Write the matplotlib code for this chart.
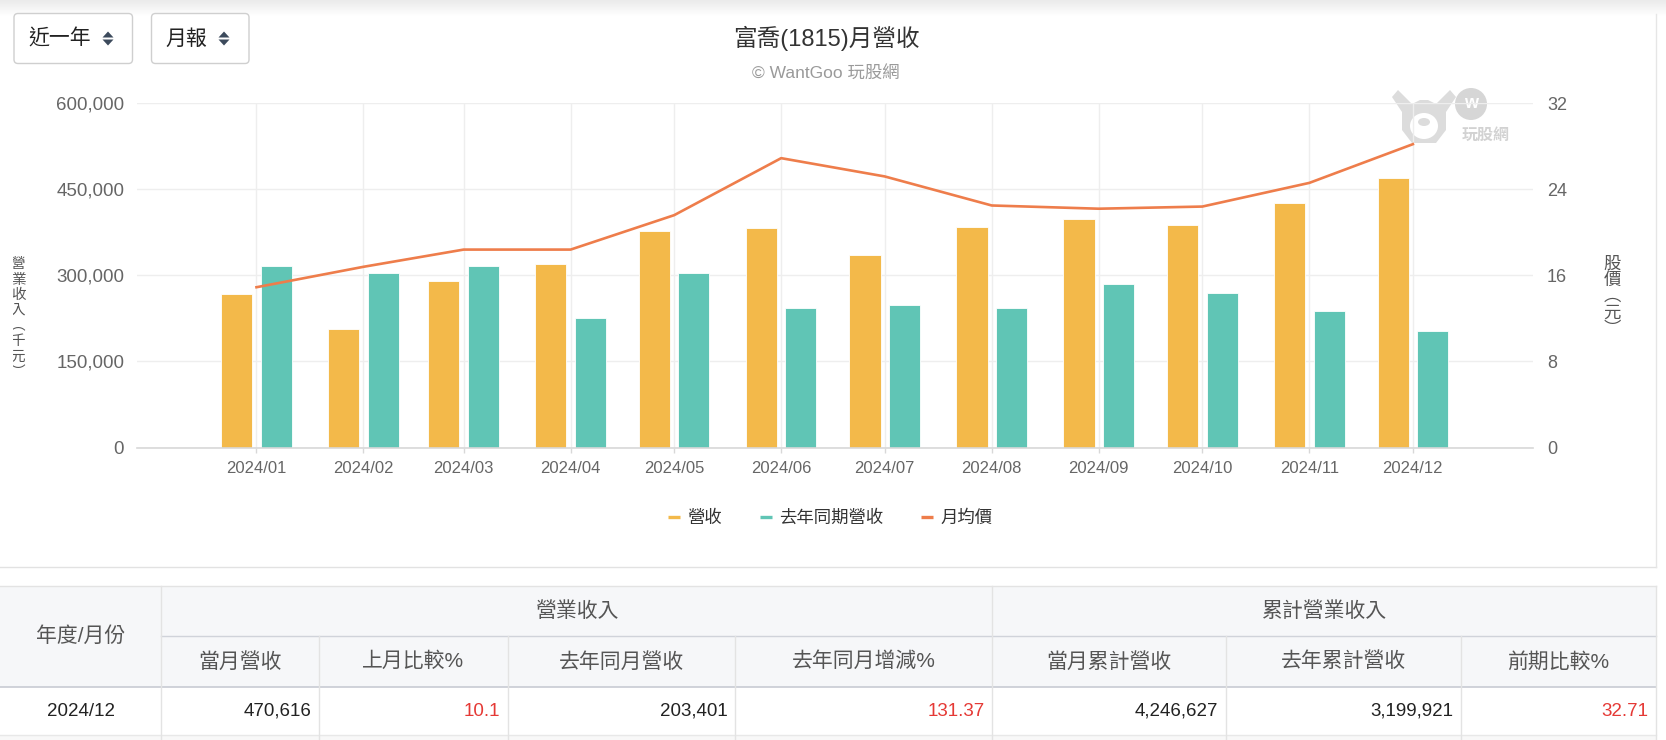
import matplotlib
matplotlib.use("Agg")
import matplotlib.pyplot as plt
import matplotlib.dates as mdates
from matplotlib.patches import Rectangle, FancyBboxPatch, Polygon, Ellipse, Circle
from matplotlib.lines import Line2D
from matplotlib.transforms import Bbox
from datetime import datetime
import numpy as np

plt.rcParams['font.family'] = ['Liberation Sans', 'Noto Sans CJK TC', 'DejaVu Sans']

# ---------------- data ----------------
months = ["2024/01", "2024/02", "2024/03", "2024/04", "2024/05", "2024/06",
          "2024/07", "2024/08", "2024/09", "2024/10", "2024/11", "2024/12"]
revenue = [267000, 207200, 290900, 319300, 376800, 382100,
           335000, 385000, 397800, 387300, 426900, 470616]
revenue_last_year = [317000, 303600, 317000, 225200, 303600, 243200,
                     249100, 243200, 285700, 270000, 238600, 203401]
avg_price = [14.9, 16.8, 18.4, 18.4, 21.6, 26.9, 25.2, 22.5, 22.2, 22.4, 24.6, 28.2]

rev_ticks = [0, 150000, 300000, 450000, 600000]
price_ticks = [0, 8, 16, 24, 32]

title = "富喬(1815)月營收"
subtitle = "© WantGoo 玩股網"
legend_labels = ["營收", "去年同期營收", "月均價"]
left_label_chars = ["營", "業", "收", "入", "︵", "千", "元", "︶"]
right_label_chars = ["股", "價", "︵", "元", "︶"]
buttons = ["近一年", "月報"]

table_group_labels = ["營業收入", "累計營業收入"]
table_first_header = "年度/月份"
table_headers = ["當月營收", "上月比較%", "去年同月營收", "去年同月增減%",
                 "當月累計營收", "去年累計營收", "前期比較%"]
table_row = ["2024/12", "470,616", "10.1", "203,401", "131.37",
             "4,246,627", "3,199,921", "32.71"]
table_row_red = [False, False, True, False, True, False, False, True]

# ---------------- style ----------------
C_REV = "#F3B94A"
C_LY = "#60C5B5"
C_LINE = "#EE7D4B"
C_GRID = "#EEEEEE"
C_AXIS = "#D8D8D8"
C_TICK = "#666666"
C_RED = "#E53935"

W, H = 1666, 740
fig = plt.figure(figsize=(W / 100, H / 100), dpi=100)
fig.patch.set_facecolor("white")

# background / decoration axes in pixel coords
bg = fig.add_axes([0, 0, 1, 1])
bg.set_xlim(0, W)
bg.set_ylim(H, 0)
bg.axis("off")

# top shadow gradient
grad = np.linspace(0.92, 1.0, 64).reshape(-1, 1)
bg.imshow(np.dstack([grad, grad, grad]), extent=(0, W, 16, 0), aspect="auto", zorder=0)

# card borders
bg.plot([0, 1656], [567, 567], color="#E2E2E2", lw=1, zorder=1)
bg.plot([1656, 1656], [14, 567], color="#E6E6E6", lw=1, zorder=1)

# buttons
btn_boxes = [(14, 13.5, 118.5, 50), (151.5, 13.5, 97.5, 50)]
btn_text_x = [28, 165]
btn_arrow_x = [108, 224]
for (bx, by, bw_, bh), label, tx, axx in zip(btn_boxes, buttons, btn_text_x, btn_arrow_x):
    bg.add_patch(FancyBboxPatch((bx, by), bw_, bh, boxstyle="round,pad=0,rounding_size=4",
                                fc="white", ec="#CFCFCF", lw=1, zorder=2))
    bg.text(tx, 39, label, fontsize=15, color="#222222", va="center", ha="left", zorder=3)
    bg.add_patch(Polygon([[axx - 5.5, 37.5], [axx + 5.5, 37.5], [axx, 31.5]],
                         closed=True, fc="#3C4A5C", ec="none", zorder=3))
    bg.add_patch(Polygon([[axx - 5.5, 39.5], [axx + 5.5, 39.5], [axx, 45.5]],
                         closed=True, fc="#3C4A5C", ec="none", zorder=3))

# title and subtitle
bg.text(826, 38, title, fontsize=17, color="#333333", ha="center", va="center", zorder=3)
bg.text(826, 72.5, subtitle, fontsize=12.5, color="#9A9A9A", ha="center", va="center", zorder=3)

# watermark (bull logo)
wm = "#DCDCDC"
bg.add_patch(Polygon([[1392, 97], [1398, 90], [1412, 104], [1420, 100], [1428, 100],
                      [1436, 104], [1450, 90], [1456, 97], [1446, 112], [1446, 130],
                      [1436, 143], [1412, 143], [1402, 130], [1402, 112]],
                     closed=True, fc=wm, ec="none", zorder=1))
bg.add_patch(Ellipse((1424, 126), 28, 26, fc="white", ec="none", zorder=1))
bg.add_patch(Ellipse((1424, 122), 12, 8, fc=wm, ec="none", zorder=1))
bg.add_patch(Circle((1434, 113), 2.5, fc=wm, ec="none", zorder=1))
bg.add_patch(Circle((1471, 104), 16, fc="#D6D6D6", ec="none", zorder=1))
bg.text(1471, 104, "w", fontsize=13, fontweight="bold", color="white", ha="center", va="center", zorder=1)
bg.text(1486, 135, "玩股網", fontsize=11.5, fontweight="bold", color="#D2D2D2", ha="center", va="center", zorder=1)

# vertical axis titles (upright characters, vertical writing)
lt = bg.text(18, 318, "\n".join(left_label_chars),
             fontsize=10.5, color="#555555", ha="center", va="center", linespacing=1.12, zorder=3,
             family=["Noto Sans CJK TC", "DejaVu Sans"])
lt.set_clip_box(Bbox.from_extents(13, 0, 200, H))
lt.set_clip_on(True)
bg.text(1612, 296, "\n".join(right_label_chars),
        fontsize=12.5, color="#555555", ha="center", va="center", linespacing=0.88, zorder=3,
        family=["Noto Sans CJK TC", "DejaVu Sans"])

# ---------------- table ----------------
col_edges = [0, 161.5, 318.75, 507.9, 735.3, 992.4, 1226.1, 1461, 1656]
y0, y1, y2, y3 = 586, 636, 687, 735
bg.add_patch(Rectangle((0, y0), 1656, y2 - y0, fc="#F6F7F9", ec="none", zorder=1))
bg.add_patch(Rectangle((0, y3), 1656, H - y3, fc="#F8F8F8", ec="none", zorder=1))
bg.plot([0, 1656], [y0, y0], color="#E3E3E3", lw=1, zorder=2)
bg.plot([col_edges[1], 1656], [y1, y1], color="#D0D3DA", lw=1, zorder=2)
bg.plot([0, 1656], [y2, y2], color="#C8CBD3", lw=1.2, zorder=2)
bg.plot([0, 1656], [y3, y3], color="#E8E8E8", lw=1, zorder=2)
for xe in col_edges[1:]:
    top = y0 if xe in (col_edges[1], col_edges[5], col_edges[8]) else y1
    bg.plot([xe, xe], [top, H], color="#E3E3E3", lw=1, zorder=2)

hdr_color = "#555555"
bg.text((col_edges[0] + col_edges[1]) / 2, (y0 + y2) / 2, table_first_header,
        fontsize=15, color=hdr_color, ha="center", va="center", zorder=3)
bg.text((col_edges[1] + col_edges[5]) / 2, (y0 + y1) / 2, table_group_labels[0],
        fontsize=15, color=hdr_color, ha="center", va="center", zorder=3)
bg.text((col_edges[5] + col_edges[8]) / 2, (y0 + y1) / 2, table_group_labels[1],
        fontsize=15, color=hdr_color, ha="center", va="center", zorder=3)
for i, h in enumerate(table_headers):
    cx = (col_edges[i + 1] + col_edges[i + 2]) / 2
    bg.text(cx, (y1 + y2) / 2, h, fontsize=15, color=hdr_color, ha="center", va="center", zorder=3)
for i, (val, red) in enumerate(zip(table_row, table_row_red)):
    col = C_RED if red else "#222222"
    ym = (y2 + y3) / 2
    if i == 0:
        bg.text((col_edges[0] + col_edges[1]) / 2, ym, val, fontsize=13.5, color=col,
                ha="center", va="center", zorder=3)
    else:
        bg.text(col_edges[i + 1] - 7.5, ym, val, fontsize=13.5, color=col,
                ha="right", va="center", zorder=3)

# ---------------- chart ----------------
L, R, T, B = 136.7, 1533, 103.3, 447.5
ax = fig.add_axes([L / W, 1 - B / H, (R - L) / W, (B - T) / H])
ax.patch.set_visible(False)
ax2 = ax.twinx()

dates = [datetime.strptime(m, "%Y/%m") for m in months]
xd = mdates.date2num(dates)
off = 5.72
bw = 9.0

ax.bar(xd - off, revenue, width=bw, color=C_REV, edgecolor="white", linewidth=0.6, zorder=2)
ax.bar(xd + off, revenue_last_year, width=bw, color=C_LY, edgecolor="white", linewidth=0.6, zorder=2)
ax2.plot(xd, avg_price, color=C_LINE, lw=1.9, zorder=3, solid_joinstyle="round")

ax.set_xlim(xd[0] - 34.7, xd[-1] + 34.8)
ax.set_ylim(0, 600000)
ax2.set_ylim(0, 32)

ax.set_xticks(xd)
ax.set_xticklabels(months)
ax.set_yticks(rev_ticks)
ax.set_yticklabels([f"{v:,}" for v in rev_ticks])
ax2.set_yticks(price_ticks)
ax2.set_yticklabels([str(v) for v in price_ticks])

ax.set_axisbelow(True)
ax.grid(True, color=C_GRID, lw=1)
for a in (ax, ax2):
    for s in ("top", "left", "right"):
        a.spines[s].set_visible(False)
ax.spines["bottom"].set_color(C_AXIS)
ax.spines["bottom"].set_linewidth(1.2)
ax2.spines["bottom"].set_visible(False)

ax.tick_params(axis="x", length=3.6, width=1, color=C_AXIS, labelsize=12, labelcolor=C_TICK, pad=6)
ax.tick_params(axis="y", length=0, labelsize=13.5, labelcolor=C_TICK, pad=9)
ax2.tick_params(axis="y", length=0, labelsize=13, labelcolor=C_TICK, pad=10)

# legend
handles = [Line2D([], [], color=c, lw=2.4, solid_capstyle="butt") for c in (C_REV, C_LY, C_LINE)]
fig.legend(handles, legend_labels, loc="center", bbox_to_anchor=(830 / W, 1 - 518 / H), ncol=3,
           frameon=False, fontsize=12.5, labelcolor="#333333", handlelength=0.7,
           handletextpad=0.4, columnspacing=2.2)

fig.savefig("out.png", dpi=100, facecolor="white")
